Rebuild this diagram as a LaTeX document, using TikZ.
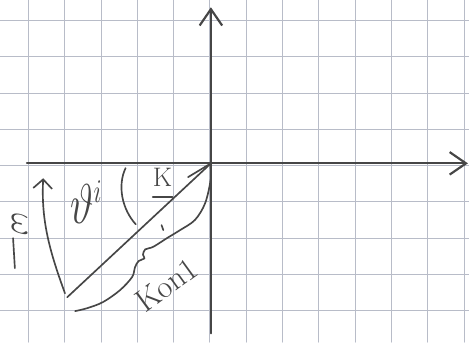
\RequirePackage{fix-cm}
\documentclass[tikz,border=0pt]{standalone}
\usepackage{amsmath,amssymb}
\usepackage{xcolor}
\usepackage{tikz}
\usetikzlibrary{arrows.meta,calc}
\definecolor{paperline}{RGB}{184,188,200}
\definecolor{pencil}{RGB}{70,70,70}

\begin{document}
\begin{tikzpicture}[line join=round,line cap=round,
  gridline/.style={paperline,line width=0.55pt},
  axisline/.style={pencil,line width=1.7pt,-{Straight Barb[length=0.45cm,width=0.62cm]}},
  pencilline/.style={pencil,line width=1.3pt},
  handtext/.style={pencil,inner sep=0pt}]
  \useasboundingbox (-5.78,-4.87) rectangle (7.14,4.56);
  \fill[white] (-5.78,-4.87) rectangle (7.14,4.56);
  \draw[gridline] (-5.78,-4.87) grid (7.14,4.56);
  \coordinate (O) at (0.03,0.06);
  \coordinate (XL) at (-5.04,0.06);
  \coordinate (XR) at (7.11,0.06);
  \coordinate (YB) at (0.03,-4.62);
  \coordinate (YT) at (0.03,4.36);
  \coordinate (R0) at (-3.93,-3.63);
  \coordinate (B0) at (-0.60,-0.32);
  \coordinate (E0) at (-3.99,-3.52);
  \coordinate (E1) at (-4.59,-0.35);
  \draw[axisline] (XL) -- (XR);
  \draw[axisline] (YB) -- (YT);
  \draw[pencilline] (R0) -- (O);
  \draw[pencilline] (B0) -- (O);
  \draw[pencilline,-{Straight Barb[length=0.25cm,width=0.52cm]}] (E0) .. controls (-4.40,-2.39) and (-4.65,-1.55) .. (E1);
  \draw[pencilline] (-2.32,-0.07) .. controls (-2.55,-0.55) and (-2.42,-1.20) .. (-2.04,-1.62);
  \draw[pencilline] plot[smooth,tension=0.55] coordinates {(0.01,0.05) (0.02,-0.40) (-0.13,-1.04) (-0.41,-1.50) (-0.82,-1.78) (-1.18,-2.00) (-1.56,-2.24) (-1.78,-2.31) (-1.84,-2.46) (-1.80,-2.56) (-1.96,-2.63) (-2.06,-2.80) (-2.14,-3.07) (-2.47,-3.43) (-2.94,-3.76) (-3.38,-3.93) (-3.71,-4.01)};
  \draw[pencilline] (-1.33,-1.64) -- (-1.28,-1.78);
  \node[handtext,font=\fontsize{28}{30}\selectfont,rotate=-90] (om) at (-5.24,-1.64) {$\omega$};
  \draw[pencilline] (-5.42,-2.00) -- (-5.37,-2.83);
  \node[handtext,font=\fontsize{44}{48}\selectfont,xscale=0.72,anchor=base west] (th) at (-3.85,-1.59) {$\vartheta^{\mbox{\fontsize{26}{28}\selectfont$i$}}$};
  \node[handtext,font=\fontsize{21}{24}\selectfont,anchor=base] (kv) at (-1.30,-0.59) {K};
  \draw[pencilline] ([yshift=-8pt]kv.base west) -- ([yshift=-8pt]kv.base east);
  \node[handtext,font=\fontsize{25}{30}\selectfont,rotate=36] (kon) at (-1.18,-3.29) {Kon1};
\end{tikzpicture}
\end{document}
